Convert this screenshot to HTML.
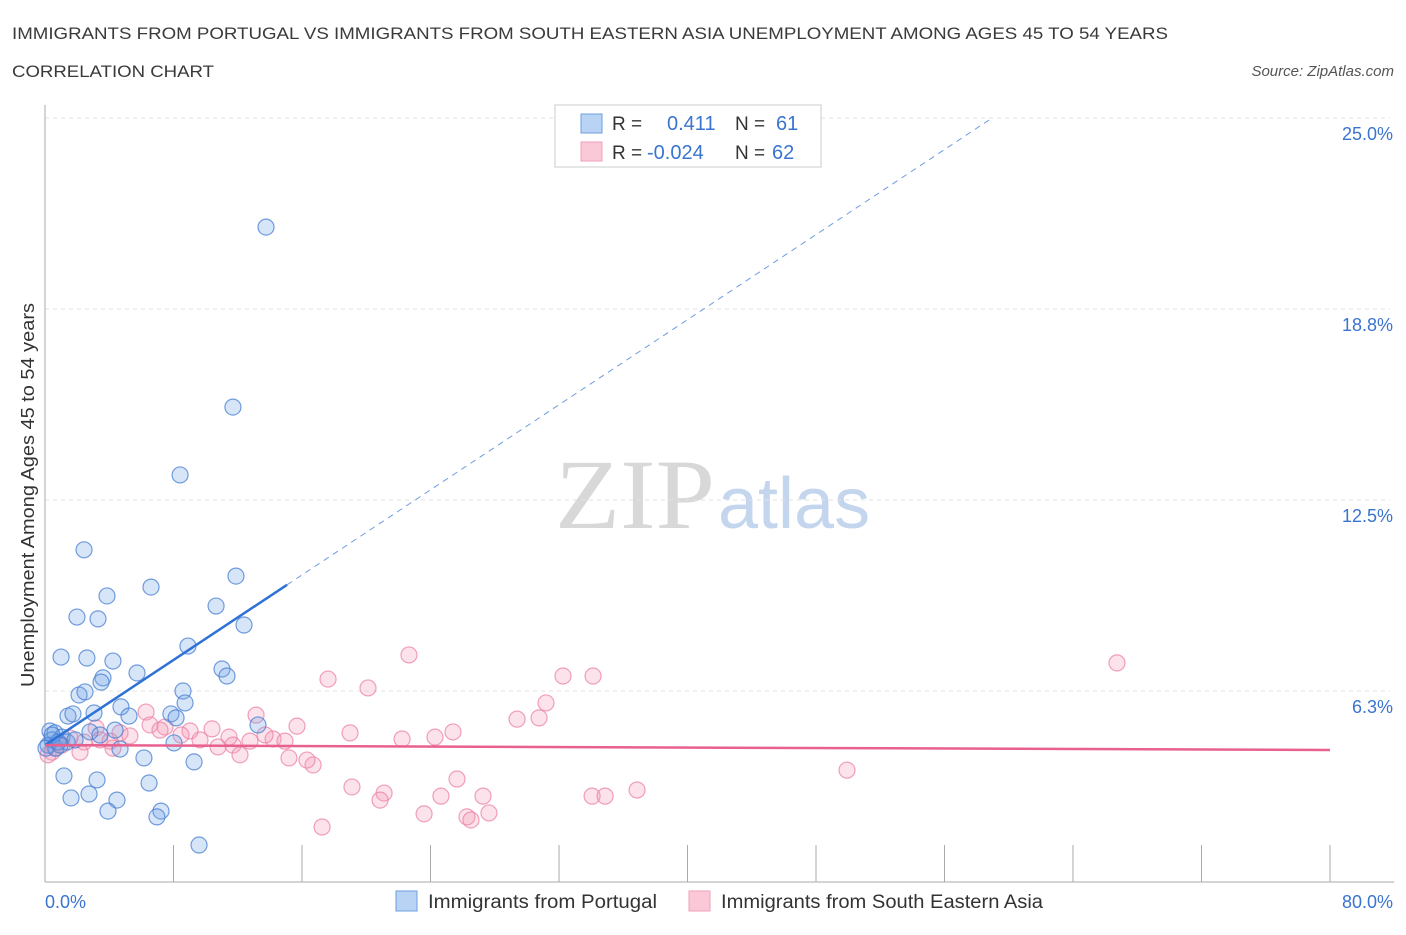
<!DOCTYPE html>
<html><head><meta charset="utf-8"><style>
body{margin:0;background:#fff;font-family:"Liberation Sans",sans-serif;}
</style></head><body>
<svg id="chart" width="1406" height="930" xmlns="http://www.w3.org/2000/svg" font-family="Liberation Sans, sans-serif">
<text x="12" y="39" font-size="17" fill="#3a3a3a" textLength="1156" lengthAdjust="spacingAndGlyphs">IMMIGRANTS FROM PORTUGAL VS IMMIGRANTS FROM SOUTH EASTERN ASIA UNEMPLOYMENT AMONG AGES 45 TO 54 YEARS</text>
<text x="12" y="77" font-size="17" fill="#3a3a3a" textLength="202" lengthAdjust="spacingAndGlyphs">CORRELATION CHART</text>
<text x="1394" y="76" font-size="15" fill="#555" text-anchor="end" font-style="italic">Source: ZipAtlas.com</text>
<g>
<text x="555" y="528" font-size="100" fill="#d8d8d8" font-family="Liberation Serif, serif" textLength="160" lengthAdjust="spacingAndGlyphs">ZIP</text>
<text x="718" y="528" font-size="72" fill="#c4d6ee">atlas</text>
</g>
<g id="grid"></g><g id="axes"></g><g id="marks"></g>
<text transform="translate(34,495) rotate(-90)" font-size="18" fill="#333" text-anchor="middle" textLength="384" lengthAdjust="spacingAndGlyphs">Unemployment Among Ages 45 to 54 years</text>
<g>
<rect x="555" y="105" width="266" height="62" fill="#fff" stroke="#ccc"/>
<rect x="581" y="114" width="21" height="19" fill="#b9d3f5" stroke="#6d9de0"/>
<rect x="581" y="142" width="21" height="19" fill="#fac8d6" stroke="#f0a0b8"/>
<text x="612" y="130" font-size="19" fill="#333">R =</text>
<text x="667" y="130" font-size="20" fill="#3a74d0">0.411</text>
<text x="735" y="130" font-size="19" fill="#333">N =</text>
<text x="776" y="130" font-size="20" fill="#3a74d0">61</text>
<text x="612" y="159" font-size="19" fill="#333">R =</text>
<text x="647" y="159" font-size="20" fill="#3a74d0">-0.024</text>
<text x="735" y="159" font-size="19" fill="#333">N =</text>
<text x="772" y="159" font-size="20" fill="#3a74d0">62</text>
</g>
<g>
<rect x="396" y="891" width="21" height="20" fill="#b9d3f5" stroke="#6d9de0"/>
<text x="428" y="908" font-size="19" fill="#333" textLength="229" lengthAdjust="spacingAndGlyphs">Immigrants from Portugal</text>
<rect x="689" y="891" width="21" height="20" fill="#fac8d6" stroke="#f0a0b8"/>
<text x="721" y="908" font-size="19" fill="#333" textLength="322" lengthAdjust="spacingAndGlyphs">Immigrants from South Eastern Asia</text>
</g>
</svg>
<script>
const yTicks=[6.25,12.5,18.75,25];
const yTickLabels=["6.3%","12.5%","18.8%","25.0%"];
const xTicks=[0,8,16,24,32,40,48,56,64,72,80];
const xEndLabels=["0.0%","80.0%"];
const blueX=[13.76,11.70,8.41,2.43,11.89,6.60,3.86,10.65,1.99,3.30,12.39,8.90,1.00,2.61,4.23,5.73,11.02,11.33,3.61,3.49,8.59,2.12,2.49,4.73,7.84,8.16,8.72,1.43,1.74,3.05,5.23,13.26,4.36,0.31,0.62,2.80,1.06,0.44,0.19,0.68,1.37,8.03,4.67,6.16,9.28,1.18,3.24,6.48,2.74,1.62,4.48,7.22,3.92,6.97,9.59,0.44,0.06,0.81,1.87,3.42,0.93];
const blueY=[21.43,15.54,13.32,10.87,10.01,9.65,9.36,9.03,8.67,8.61,8.41,7.72,7.36,7.33,7.23,6.84,6.97,6.74,6.68,6.54,6.25,6.12,6.22,5.73,5.50,5.37,5.86,5.43,5.50,5.53,5.43,5.14,4.97,4.94,4.88,4.91,4.74,4.65,4.48,4.38,4.58,4.55,4.35,4.06,3.93,3.47,3.34,3.24,2.88,2.75,2.68,2.32,2.32,2.13,1.21,4.81,4.38,4.58,4.65,4.81,4.48];
const pinkX=[66.74,22.66,32.25,34.12,17.62,20.11,31.19,29.39,30.76,13.14,6.29,15.69,18.99,25.40,24.28,22.23,10.40,9.03,7.47,8.47,11.46,14.20,14.94,12.76,11.70,12.14,10.77,9.65,4.67,5.29,3.18,3.42,2.43,1.06,0.44,0.19,1.56,4.23,2.18,15.19,16.69,16.31,25.65,19.11,21.11,20.86,24.65,27.27,34.06,34.87,36.86,49.93,23.60,26.27,26.52,27.64,17.25,4.05,6.54,7.16,13.70,0.62];
const pinkY=[7.17,7.43,6.74,6.74,6.64,6.35,5.86,5.33,5.37,5.46,5.56,5.10,4.88,4.91,4.74,4.68,5.01,4.94,5.07,4.81,4.74,4.68,4.61,4.61,4.48,4.16,4.42,4.65,4.88,4.78,5.04,4.65,4.58,4.48,4.25,4.16,4.71,4.38,4.25,4.06,3.83,3.99,3.37,3.11,2.91,2.68,2.81,2.81,2.81,2.81,3.01,3.66,2.23,2.13,2.03,2.26,1.80,4.61,5.14,4.97,4.81,4.38];
const blueTrend=[4.48,0.348];
const pinkTrend=[4.48,-0.002];
const NS="http://www.w3.org/2000/svg";
const X0=45,X1=1330,Y0=882,Y1=118;
const sx=v=>X0+(v/80)*(X1-X0);
const sy=v=>Y0-(v/25)*(Y0-Y1);
function mk(t,a,p){const e=document.createElementNS(NS,t);for(const k in a)e.setAttribute(k,a[k]);p.appendChild(e);return e;}
const grid=document.getElementById('grid'),axes=document.getElementById('axes'),marks=document.getElementById('marks');
yTicks.forEach((v,i)=>{
 const l=mk('line',{x1:X0,x2:1390,y1:sy(v),y2:sy(v),stroke:'#e2e2e2','stroke-dasharray':'4,4'},grid);
 
 
 const t=mk('text',{x:1393,y:sy(v)+22,'font-size':18,fill:'#3a74d0','text-anchor':'end'},axes);t.textContent=yTickLabels[i];
 
 
});
const ya=mk('line',{x1:X0,x2:X0,y1:105,y2:Y0,stroke:'#aaa'},axes);


const xa=mk('line',{x1:X0,x2:1394,y1:Y0,y2:Y0,stroke:'#aaa'},axes);


xTicks.forEach(v=>{const l=mk('line',{x1:sx(v),x2:sx(v),y1:845,y2:Y0,stroke:'#aaa'},axes);
 
 });
[[0,'start',X0],[80,'end',1393]].forEach((d,i)=>{const t=mk('text',{x:d[2],y:908,'font-size':18,fill:'#3a74d0','text-anchor':d[1]},axes);t.textContent=xEndLabels[i];
 
 });
pinkX.forEach((x,i)=>{const c=mk('circle',{cx:sx(x),cy:sy(pinkY[i]),r:8,fill:'rgba(245,150,180,0.28)',stroke:'rgba(235,130,165,0.75)','stroke-width':1.2},marks);
 
 });
blueX.forEach((x,i)=>{const c=mk('circle',{cx:sx(x),cy:sy(blueY[i]),r:8,fill:'rgba(110,160,230,0.28)',stroke:'rgba(70,125,210,0.75)','stroke-width':1.2},marks);
 
 });
const bEnd=15.07,bTop=(25-blueTrend[0])/blueTrend[1];
const bs=mk('line',{x1:sx(0),y1:sy(blueTrend[0]),x2:sx(bEnd),y2:sy(blueTrend[0]+blueTrend[1]*bEnd),stroke:'#2f72d6','stroke-width':2.5},marks);


const bd=mk('line',{x1:sx(bEnd),y1:sy(blueTrend[0]+blueTrend[1]*bEnd),x2:sx(bTop),y2:sy(25),stroke:'#6d9de0','stroke-width':1,'stroke-dasharray':'6,5'},marks);


const pl=mk('line',{x1:sx(0),y1:sy(pinkTrend[0]),x2:sx(80),y2:sy(pinkTrend[0]+pinkTrend[1]*80),stroke:'#e8608e','stroke-width':2.5},marks);


</script>
</body></html>
